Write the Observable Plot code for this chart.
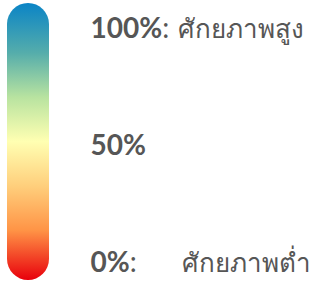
<!DOCTYPE html>
<html>
<head>
<meta charset="utf-8">
<script src="https://cdn.jsdelivr.net/npm/d3@7"></script>
<script src="https://cdn.jsdelivr.net/npm/@observablehq/plot@0.6"></script>
<style>
  html, body { margin: 0; padding: 0; background: #fff; }
  svg { display: block; }
</style>
</head>
<body>
<div id="chart"></div>
<script>
// Legend levels
const levels = [100, 50, 0];
const levelLabels = ["100%", "50%", "0%"];
const levelSeparators = [":", "", ":"];
const levelDescriptions = ["ศักยภาพสูง", "", "ศักยภาพต่ำ"];
// Gradient colour stops (top → bottom)
const stopOffsets = [0, 0.18, 0.34, 0.5, 0.66, 0.82, 1];
const stopColors = ["#0a84c6", "#55adab", "#b8e3a0", "#ffffb2", "#ffcf7c", "#ff9446", "#e8000c"];

const rows = levels.map((v, i) => ({
  value: v,
  label: levelLabels[i],
  sep: levelSeparators[i],
  desc: levelDescriptions[i]
}));

const font = "Lato, 'Noto Sans', sans-serif";
const numSize = 28;
const descSize = 26;
const ctx = document.createElement("canvas").getContext("2d");
ctx.font = `bold ${numSize}px Lato`;
const numWidth = d => ctx.measureText(d.label).width;

const textColor = "#565656";
const labelDx = 41;

const chart = Plot.plot({
  width: 320,
  height: 281,
  marginLeft: 7,
  marginRight: 271,
  marginTop: 29,
  marginBottom: 18,
  x: {axis: null},
  y: {domain: [0, 100], axis: null},
  style: {fontFamily: font, background: "#fff"},
  marks: [
    Plot.rect([{lo: 0, hi: 100}], {
      y1: "lo", y2: "hi",
      fill: "url(#potentialGradient)",
      rx: 21,
      insetTop: -26,
      insetBottom: -17
    }),
    Plot.text(rows, {
      y: "value", text: "label", frameAnchor: "right", dx: labelDx,
      textAnchor: "start", fontSize: numSize, fontWeight: "bold", fill: textColor
    }),
    ...rows.filter(d => d.sep).map(d => Plot.text([d], {
      y: "value", text: "sep", frameAnchor: "right", dx: labelDx + numWidth(d),
      textAnchor: "start", fontSize: numSize, fill: textColor
    })),
    Plot.text(rows.filter(d => d.value === 100), {
      y: "value", text: "desc", frameAnchor: "right", dx: 128,
      textAnchor: "start", fontSize: descSize, fill: textColor
    }),
    Plot.text(rows.filter(d => d.value === 0), {
      y: "value", text: "desc", frameAnchor: "right", dx: 132,
      textAnchor: "start", fontSize: descSize, fill: textColor
    })
  ]
});

const ns = "http://www.w3.org/2000/svg";
const defs = document.createElementNS(ns, "defs");
const grad = document.createElementNS(ns, "linearGradient");
grad.setAttribute("id", "potentialGradient");
grad.setAttribute("x1", "0"); grad.setAttribute("y1", "0");
grad.setAttribute("x2", "0"); grad.setAttribute("y2", "1");
stopOffsets.forEach((o, i) => {
  const s = document.createElementNS(ns, "stop");
  s.setAttribute("offset", o);
  s.setAttribute("stop-color", stopColors[i]);
  grad.appendChild(s);
});
defs.appendChild(grad);
chart.insertBefore(defs, chart.firstChild);
document.getElementById("chart").appendChild(chart);
</script>
</body>
</html>
